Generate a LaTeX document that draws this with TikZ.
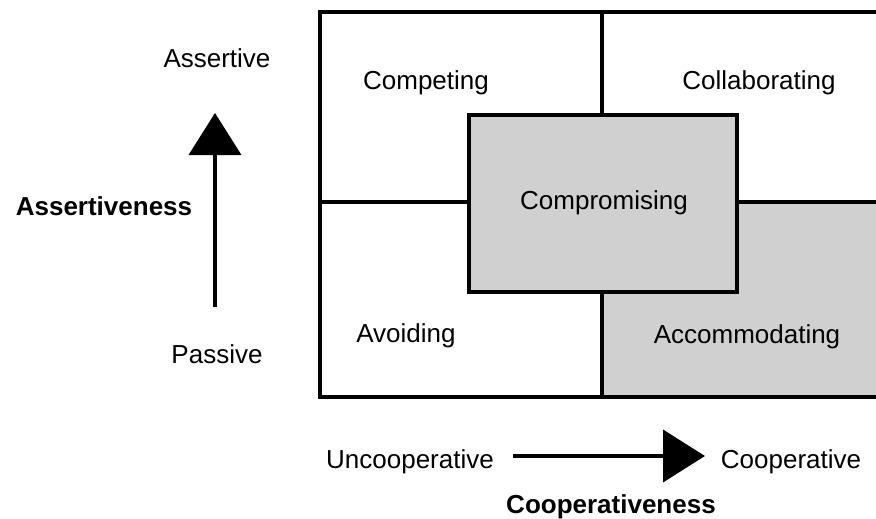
\documentclass[tikz,border=0pt]{standalone}
\usepackage{fontspec}
\setmainfont{Liberation Sans}
\usetikzlibrary{arrows.meta, positioning}
\definecolor{boxgray}{RGB}{208,208,208}
\tikzset{
  quadtext/.style={anchor=base, inner sep=0pt, font=\fontsize{26}{31}\selectfont},
  axistext/.style={anchor=base, inner sep=0pt, font=\fontsize{26}{31}\selectfont},
  axistitle/.style={anchor=base, inner sep=0pt, font=\fontsize{26}{31}\selectfont\bfseries},
  gridline/.style={line width=3.6pt, black},
  bigarrow/.style={line width=4pt, -{Triangle[length=42pt,width=52pt]}},
}

\begin{document}
\begin{tikzpicture}[x=1pt, y=-1pt]
  \useasboundingbox (0,0) rectangle (876,519);
  % Quadrantes
  \fill[boxgray] (602,202) rectangle (890,397);
  \draw[gridline] (320,12) rectangle (890,397);
  \draw[gridline] (602,12) -- (602,397);
  \draw[gridline] (320,202) -- (890,202);
  \filldraw[gridline, fill=boxgray] (469,115) rectangle (737,292);
  % Rotulos dos quadrantes
  \node[quadtext] (competing) at (426,90) {Competing};
  \node[quadtext] (collaborating) at (759,90) {Collaborating};
  \node[quadtext] (compromising) at (604,209) {Compromising};
  \node[quadtext] (avoiding) at (406,342) {Avoiding};
  \node[quadtext] (accommodating) at (747,343) {Accommodating};
  % Eixo vertical
  \node[axistext] (assertive) at (217,67) {Assertive};
  \node[axistitle] (assertiveness) at (104,215) {Assertiveness};
  \node[axistext] (passive) at (217,363) {Passive};
  \coordinate (vstart) at (215,307);
  \coordinate (vend) at (215,113);
  \draw[bigarrow] (vstart) -- (vend);
  % Eixo horizontal
  \node[axistext] (uncoop) at (410,468) {Uncooperative};
  \node[axistext] (coop) at (791,468) {Cooperative};
  \node[axistitle] (cooperativeness) at (611,513) {Cooperativeness};
  \coordinate (hstart) at (513,456);
  \coordinate (hend) at (705,456);
  \draw[bigarrow] (hstart) -- (hend);
\end{tikzpicture}
\end{document}
